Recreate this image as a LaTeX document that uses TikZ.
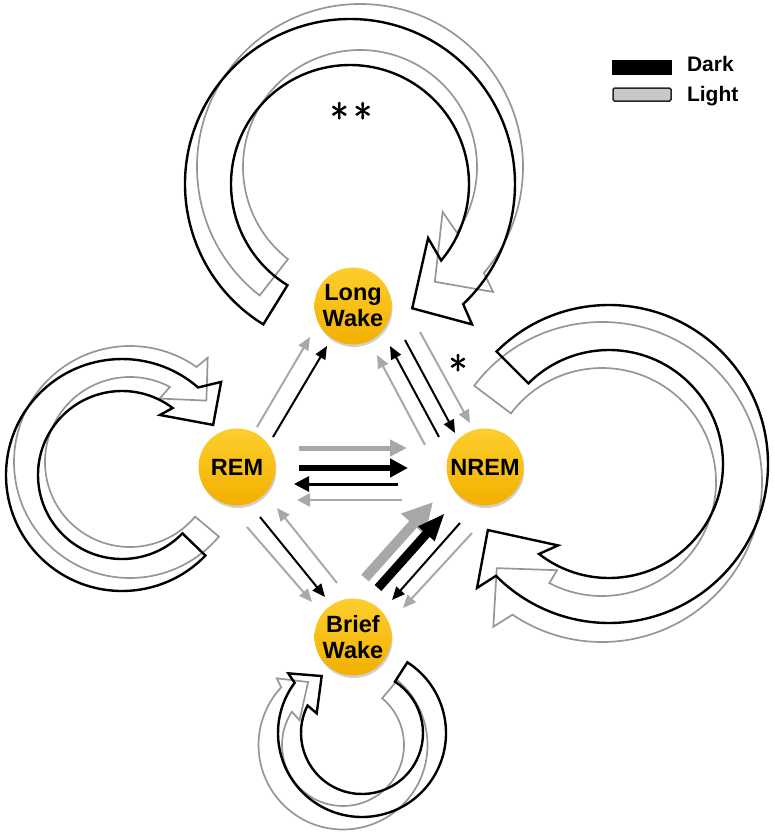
\documentclass[tikz,border=0pt]{standalone}
\usepackage{fontspec}
\setmainfont{Liberation Sans}
\newfontfamily\starfont[FakeBold=3]{Latin Modern Roman}
\usetikzlibrary{arrows.meta,calc,shadows}
\definecolor{gold}{RGB}{243,176,0}
\definecolor{goldlight}{RGB}{253,206,45}
\definecolor{lg}{RGB}{168,168,168}
\definecolor{lgline}{RGB}{150,150,150}
\definecolor{lgfill}{RGB}{200,200,200}
\begin{document}
\begin{tikzpicture}[x=1pt,y=-1pt,
  state/.style={circle,minimum size=77pt,inner sep=0pt,top color=goldlight,bottom color=gold,
    draw=none,font=\bfseries\fontsize{23.5}{26}\selectfont,align=center,
    drop shadow={shadow xshift=1pt,shadow yshift=-2.5pt,opacity=0.3,fill=black!60}},
  thinK/.style={black,line width=2pt,-{Triangle[length=13pt,width=11pt]}},
  thinG/.style={lg,line width=2pt,-{Triangle[length=13pt,width=11pt]}},
  loopK/.style={draw=black,line width=2.4pt,line join=miter},
  loopG/.style={draw=lgline,line width=1.7pt,line join=miter},
  star/.style={anchor=base,inner sep=0pt,font=\starfont\fontsize{38}{38}\selectfont},
  legtext/.style={anchor=base west,font=\bfseries\fontsize{21}{22}\selectfont}
]
\useasboundingbox (0,0) rectangle (775,835);

% ---------- self loops (light first, then dark) ----------
% Long Wake loop
\begin{scope}[shift={(360,167)}]
\draw[loopG] (128:163) arc[start angle=128,end angle=400.5,radius=163] -- (403.2:182.5) -- (416.9:137) -- (388.5:94) -- (394.1:117) arc[start angle=394.1,end angle=128,radius=117] -- cycle;
\end{scope}
\begin{scope}[shift={(350,184)}]
\draw[loopK] (121.7:165) arc[start angle=121.7,end angle=406.7,radius=165] -- (409:186) -- (423.4:139) -- (394.7:95) -- (400:119) arc[start angle=400,end angle=121.7,radius=119] -- cycle;
\end{scope}
% REM loop
\begin{scope}[shift={(130,462)}]
\draw[loopG] (40:116) arc[start angle=40,end angle=305,radius=116] -- (306.7:130) -- (321.2:98) -- (295:70) -- (298:85) arc[start angle=298,end angle=40,radius=85] -- cycle;
\end{scope}
\begin{scope}[shift={(122,475)}]
\draw[loopK] (44:116) arc[start angle=44,end angle=311,radius=116] -- (316.8:136) -- (331.2:104) -- (302.3:71) -- (307.1:84) arc[start angle=307.1,end angle=44,radius=84] -- cycle;
\end{scope}
% NREM loop
\begin{scope}[shift={(602,482)}]
\draw[loopG] (217:160) arc[start angle=217,end angle=484,radius=160] -- (486.9:181) -- (500.7:136) -- (477:99) -- (477.5:114) arc[start angle=477.5,end angle=217,radius=114] -- cycle;
\end{scope}
\begin{scope}[shift={(609,464)}]
\draw[loopK] (225:159) arc[start angle=225,end angle=495.3,radius=159] -- (496.8:181) -- (511.4:138) -- (482:96) -- (487.9:114) arc[start angle=487.9,end angle=225,radius=114] -- cycle;
\end{scope}
% Brief Wake loop
\begin{scope}[shift={(343,745)}]
\draw[loopG] (310:84.5) arc[start angle=310,end angle=583,radius=84.5] -- (585.2:94) -- (601:72) -- (569.7:50) -- (573:61) arc[start angle=573,end angle=310,radius=61] -- cycle;
\end{scope}
\begin{scope}[shift={(362,733)}]
\draw[loopK] (302.7:84) arc[start angle=302.7,end angle=576.7,radius=84] -- (579:94.8) -- (594.7:69.8) -- (563.5:49.4) -- (566.8:61) arc[start angle=566.8,end angle=302.7,radius=61] -- cycle;
\end{scope}

% ---------- states ----------
\node[state] (LW) at (353,306) {Long\\Wake};
\node[state] (REM) at (237,467) {REM};
\node[state] (NREM) at (485,467) {NREM};
\node[state] (BW) at (353,637) {Brief\\Wake};

% ---------- transitions ----------
% REM -> Long Wake
\draw[thinG] ($(REM)+(20,-40)$) -- ($(LW)+(-43,31)$);
\draw[thinK] ($(REM)+(36,-30)$) -- ($(LW)+(-26,40)$);
% NREM <-> Long Wake
\draw[thinG] ($(NREM)+(-60,-22)$) -- ($(LW)+(24,49)$);
\draw[thinK] ($(NREM)+(-46,-30)$) -- ($(LW)+(37,40)$);
\draw[thinK] ($(LW)+(52,34)$) -- ($(NREM)+(-30,-34)$);
\draw[thinG] ($(LW)+(67,26)$) -- ($(NREM)+(-15,-44)$);
% REM <-> NREM
\draw[lg,line width=5pt,-{Triangle[length=17pt,width=16pt]}] ($(REM)+(62,-19)$) -- ($(NREM)+(-78,-19)$);
\draw[black,line width=5.5pt,-{Triangle[length=18pt,width=18pt]}] ($(REM)+(62,1)$) -- ($(NREM)+(-77,1)$);
\draw[black,line width=3pt,-{Triangle[length=15pt,width=15pt]}] ($(NREM)+(-87,17)$) -- ($(REM)+(57,17)$);
\draw[lg,line width=2.5pt,-{Triangle[length=13pt,width=13pt]}] ($(NREM)+(-83,33)$) -- ($(REM)+(60,33)$);
% REM <-> Brief Wake
\draw[thinG] ($(REM)+(10,60)$) -- ($(BW)+(-41,-35)$);
\draw[thinK] ($(REM)+(23,50)$) -- ($(BW)+(-28,-40)$);
\draw[thinG] ($(BW)+(-16,-54)$) -- ($(REM)+(40,41)$);
% Brief Wake <-> NREM
\draw[lg,line width=10pt,-{Triangle[length=30pt,width=30pt]}] ($(BW)+(12,-59)$) -- ($(NREM)+(-52,35)$);
\draw[black,line width=9pt,-{Triangle[length=28pt,width=20pt]}] ($(BW)+(25,-49)$) -- ($(NREM)+(-40,46)$);
\draw[thinK] ($(NREM)+(-25,56)$) -- ($(BW)+(39,-37)$);
\draw[thinG] ($(NREM)+(-13,66)$) -- ($(BW)+(50,-29)$);

% ---------- significance marks ----------
\node[star] (s2) at (351,131) {*\hspace{6pt}*};
\node[star] (s1) at (458,383) {*};

% ---------- legend ----------
\node[fill=black,minimum width=60pt,minimum height=15pt,inner sep=0pt] (legD) at (642,67.5) {};
\node[fill=lgfill,draw=black!85,line width=1.5pt,rounded corners=1.5pt,minimum width=58pt,minimum height=13pt,inner sep=0pt] (legL) at (642,94.5) {};
\node[legtext] (tD) at (683.5,71.7) {Dark};
\node[legtext] (tL) at (683.5,101.7) {Light};
\end{tikzpicture}
\end{document}
